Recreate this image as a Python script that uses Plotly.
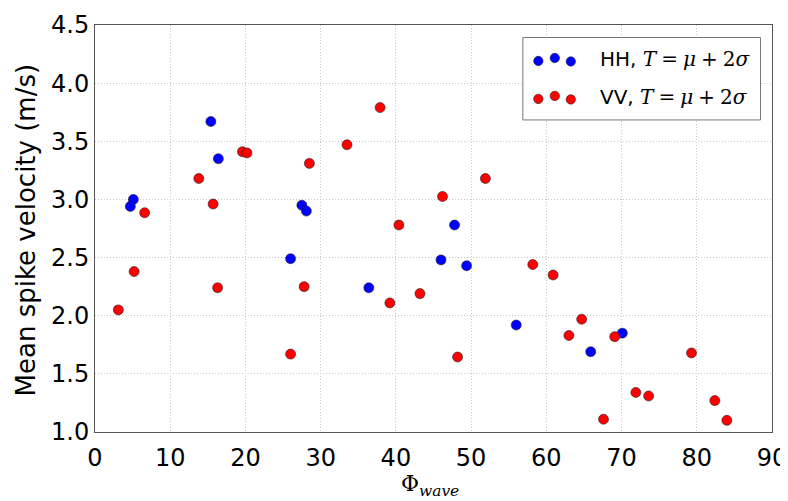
import plotly.graph_objects as go

# ---- data ----
hh_x = [4.7, 5.1, 15.4, 16.4, 27.5, 28.1, 26.0, 36.4, 47.8, 46.0, 49.4, 56.0, 65.9, 70.1]
hh_y = [2.94, 3.00, 3.67, 3.35, 2.95, 2.90, 2.49, 2.24, 2.78, 2.48, 2.43, 1.92, 1.69, 1.85]

vv_x = [3.1, 5.2, 6.6, 13.8, 15.7, 16.3, 19.6, 20.2, 26.0, 27.8, 28.5, 33.5, 37.9, 39.2, 40.4,
        43.2, 46.2, 48.2, 51.9, 58.2, 60.9, 63.0, 64.7, 67.6, 69.1, 71.9, 73.6, 79.3, 82.4, 84.0]
vv_y = [2.05, 2.38, 2.885, 3.18, 2.96, 2.24, 3.41, 3.40, 1.67, 2.25, 3.31, 3.47, 3.79, 2.11, 2.78,
        2.19, 3.025, 1.645, 3.18, 2.44, 2.35, 1.83, 1.97, 1.11, 1.82, 1.34, 1.31, 1.68, 1.27, 1.10]

x_ticks = [0, 10, 20, 30, 40, 50, 60, 70, 80, 90]
y_ticks = [1.0, 1.5, 2.0, 2.5, 3.0, 3.5, 4.0, 4.5]
series_names = ["HH", "VV"]
series_colors = ["#0000ff", "#ff0000"]

MATH = ('<span style="font-family:\'DejaVu Serif\'"><i>T</i>\u2005=\u2005<i>μ</i>'
        '\u2005+\u20052<i>σ</i></span>')

# page is 788x501 but the html body has an 8px margin
OFF = 8
W, H = 788 - OFF, 501 - OFF
# plot area in page pixels: x 94.5..772.5, y 25..432.3
ML, MR, MT, MB = 94.5 - OFF, 788 - 772.5, 25 - OFF, 501 - 432.3
PW, PH = W - ML - MR, H - MT - MB

fig = go.Figure()
for name, xs, ys, col in [(series_names[0], hh_x, hh_y, series_colors[0]),
                          (series_names[1], vv_x, vv_y, series_colors[1])]:
    fig.add_trace(go.Scatter(
        x=xs, y=ys, mode="markers", name=name, showlegend=False,
        marker=dict(size=10, color=col, line=dict(color="#222222", width=0.6)),
    ))

def px_x(p):  # page pixel -> paper
    return (p - OFF - ML) / PW

def px_y(p):
    return (H - MB - (p - OFF)) / PH

shapes = []
annotations = []
# legend box
shapes.append(dict(type="rect", xref="paper", yref="paper",
                   x0=px_x(523), x1=px_x(761), y0=px_y(120), y1=px_y(37.5),
                   line=dict(color="#777777", width=1), fillcolor="white", layer="above"))
row_y = [59.5, 97.5]
offsets = [(538.5, 1.5), (555, -1.5), (571, 2.0)]
for i, (name, col) in enumerate(zip(series_names, series_colors)):
    for ox, dy in offsets:
        shapes.append(dict(type="circle", xref="paper", yref="paper",
                           xsizemode="pixel", ysizemode="pixel",
                           xanchor=px_x(ox), yanchor=px_y(row_y[i] + dy),
                           x0=-4.7, x1=4.7, y0=-4.7, y1=4.7,
                           fillcolor=col, line=dict(color="#222222", width=0.6), layer="above"))
    annotations.append(dict(xref="paper", yref="paper", x=px_x(598), y=px_y(row_y[i]),
                            xanchor="left", yanchor="middle", showarrow=False,
                            text=f"{name}, {MATH}",
                            font=dict(family="DejaVu Sans", size=20, color="black")))

# x axis title (math style)
annotations.append(dict(xref="paper", yref="paper", x=px_x(430), y=px_y(486),
                        xanchor="center", yanchor="middle", showarrow=False,
                        text="Φ<sub><i>wave</i></sub>",
                        font=dict(family="DejaVu Serif", size=22, color="black")))
# y axis title
annotations.append(dict(xref="paper", yref="paper", x=px_x(25), y=px_y(230),
                        xanchor="center", yanchor="middle", showarrow=False, textangle=-90,
                        text="Mean spike velocity (m/s)",
                        font=dict(family="DejaVu Sans", size=26, color="black")))

axis_common = dict(showline=True, mirror=True, linecolor="#555555", linewidth=1,
                   showgrid=True, gridcolor="#c8c8c8", griddash="1px,2px", gridwidth=1,
                   zeroline=False, ticks="", automargin=False,
                   tickfont=dict(family="DejaVu Sans", size=24, color="black"))

fig.update_layout(
    width=W, height=H,
    margin=dict(l=ML, r=MR, t=MT, b=MB, pad=0),
    paper_bgcolor="white", plot_bgcolor="white",
    xaxis=dict(range=[0, 90], tickvals=x_ticks, ticktext=[str(v) for v in x_ticks],
               ticklabelstandoff=4, **axis_common),
    yaxis=dict(range=[1.0, 4.5], tickvals=y_ticks, ticktext=[f"{v:.1f}" for v in y_ticks],
               **axis_common),
    shapes=shapes, annotations=annotations,
    showlegend=False,
)

fig.write_html("out.html")
